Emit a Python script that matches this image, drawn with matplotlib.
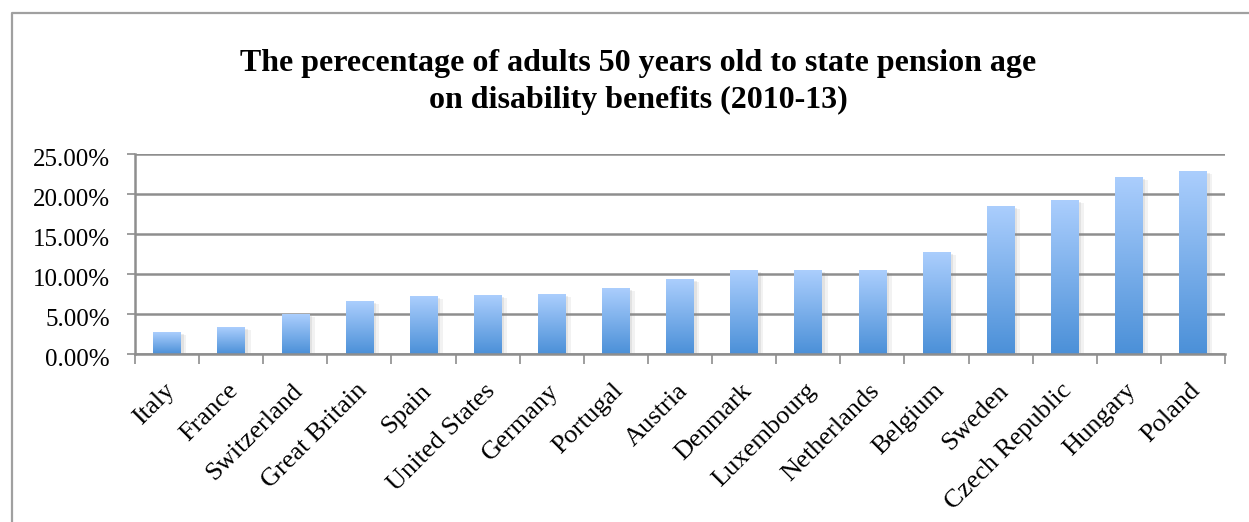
import numpy as np
import matplotlib
matplotlib.use('Agg')
import matplotlib.pyplot as plt
from matplotlib.colors import LinearSegmentedColormap
import matplotlib.patheffects as pe
from matplotlib.lines import Line2D
from matplotlib.transforms import ScaledTranslation

countries = ["Italy", "France", "Switzerland", "Great Britain", "Spain", "United States",
             "Germany", "Portugal", "Austria", "Denmark", "Luxembourg", "Netherlands",
             "Belgium", "Sweden", "Czech Republic", "Hungary", "Poland"]
values = [2.7, 3.35, 4.95, 6.6, 7.2, 7.35, 7.45, 8.2, 9.35, 10.45, 10.45, 10.45,
          12.7, 18.45, 19.2, 22.1, 22.85]
yticks = [0, 5, 10, 15, 20, 25]
title_lines = ["The perecentage of adults 50 years old to state pension age",
               "on disability benefits (2010-13)"]

plt.rcParams['font.family'] = ['Liberation Serif', 'DejaVu Serif']

fig = plt.figure(figsize=(12.49, 5.22), dpi=100)
# outer frame
fig.add_artist(Line2D([12/1249, 12/1249, 1.0], [0.0, 1-13/522, 1-13/522],
                      transform=fig.transFigure, color='#a0a0a0', lw=1.6))

ax = fig.add_axes([135/1249, 1-354/522, (1225-135)/1249, 200/522])
x = np.arange(len(countries))

gray = '#8e8e8e'
bars = ax.bar(x, values, width=0.43, color='white', zorder=2,
              path_effects=[pe.SimplePatchShadow(offset=(4, -2), shadow_rgbFace='#888888', alpha=0.10),
                            pe.SimplePatchShadow(offset=(2, -1), shadow_rgbFace='#888888', alpha=0.15),
                            pe.Normal()])
cmap = LinearSegmentedColormap.from_list('g', ['#4b90d8', '#abcefd'])
grad = np.linspace(0, 1, 256).reshape(-1, 1)
for b in bars:
    x0, y0 = b.get_x(), b.get_y()
    w, h = b.get_width(), b.get_height()
    im = ax.imshow(grad, extent=(x0, x0 + w, y0, y0 + h), origin='lower', cmap=cmap,
                   aspect='auto', zorder=3, interpolation='bilinear')
    im.set_clip_path(b)

ax.set_xlim(-0.5, len(countries) - 0.5)
ax.set_ylim(0, 25)

ax.set_axisbelow(True)
ax.yaxis.grid(True, color=gray, linewidth=1.8)
for s in ['top', 'right']:
    ax.spines[s].set_visible(False)
for s in ['left', 'bottom']:
    ax.spines[s].set_color(gray)
    ax.spines[s].set_linewidth(1.8)
    ax.spines[s].set_zorder(4)

ax.set_yticks(yticks)
ax.set_yticklabels([f"{v:.2f}%" for v in yticks])
ax.tick_params(axis='y', length=6, width=1.2, color=gray, labelsize=18, pad=12)
ydown = ScaledTranslation(0, -4/100, fig.dpi_scale_trans)
for lbl in ax.get_yticklabels():
    lbl.set_transform(lbl.get_transform() + ydown)

ax.set_xticks(np.arange(-0.5, len(countries), 1.0))
ax.set_xticklabels([])
ax.tick_params(axis='x', which='major', length=7, width=1.2, color=gray)
ax.set_xticks(x, minor=True)
ax.set_xticklabels(countries, minor=True, rotation=45, ha='right', va='center',
                   rotation_mode='anchor', fontsize=19)
ax.tick_params(axis='x', which='minor', length=0, pad=24)
offset = ScaledTranslation(4/100, 0, fig.dpi_scale_trans)
for lbl in ax.get_xticklabels(minor=True):
    lbl.set_transform(lbl.get_transform() + offset)

# title lines placed by baseline
fig.text(0.511, 1 - 71/522, title_lines[0], ha='center', va='baseline', fontsize=23,
         fontweight='bold')
fig.text(0.511, 1 - 108/522, title_lines[1], ha='center', va='baseline', fontsize=23,
         fontweight='bold')

fig.savefig('out.png', dpi=100)
